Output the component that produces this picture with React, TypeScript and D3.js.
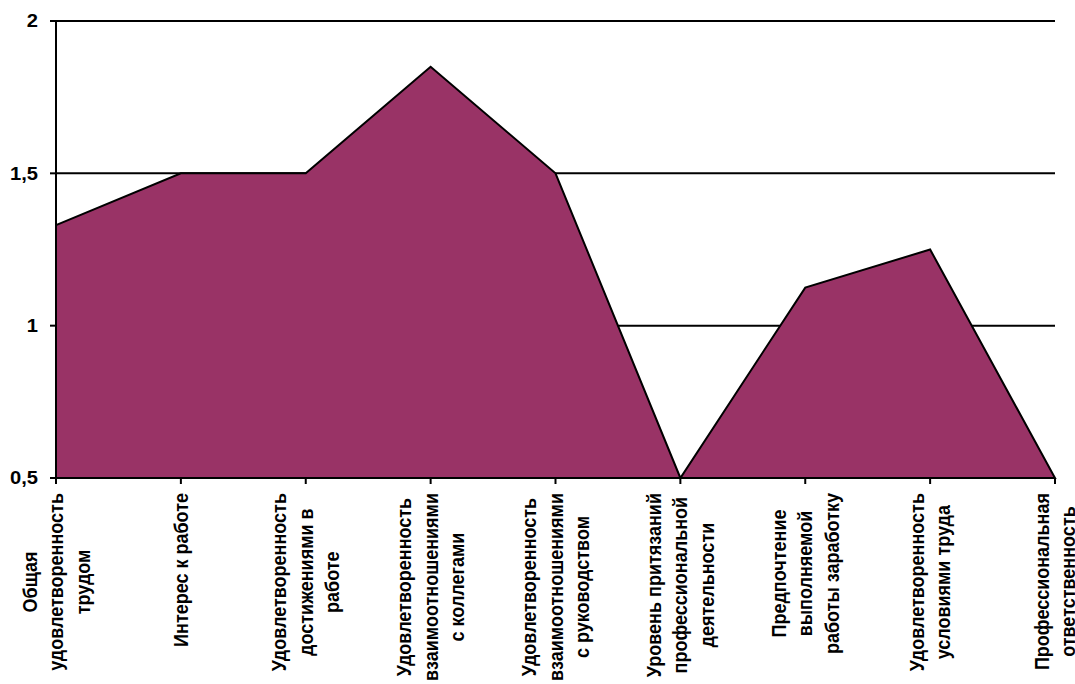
import React, { useEffect, useRef } from "react";
import * as d3 from "d3";

const categories: string[][] = [
  ["Общая", "удовлетворенность", "трудом"],
  ["Интерес к работе"],
  ["Удовлетворенность", "достижениями в", "работе"],
  ["Удовлетворенность", "взаимоотношениями", "с коллегами"],
  ["Удовлетворенность", "взаимоотношениями", "с руководством"],
  ["Уровень притязаний", "профессиональной", "деятельности"],
  ["Предпочтение", "выполняемой", "работы заработку"],
  ["Удовлетворенность", "условиями труда"],
  ["Профессиональная", "ответственность"],
];
const values: number[] = [1.33, 1.5, 1.5, 1.85, 1.5, 0.5, 1.125, 1.25, 0.5];
const yTicks: number[] = [0.5, 1, 1.5, 2];
const yTickLabels: string[] = ["0,5", "1", "1,5", "2"];

const W = 1075;
const H = 684;
const FONT = "'Liberation Sans', Arial, sans-serif";

export default function App() {
  const ref = useRef<SVGSVGElement | null>(null);

  useEffect(() => {
    const svg = d3.select(ref.current);
    svg.selectAll("*").remove();

    const left = 56, right = 1055, top = 21, bottom = 478;
    const x = d3.scalePoint<number>().domain(d3.range(values.length)).range([left, right]);
    const y = d3.scaleLinear().domain([0.5, 2]).range([bottom, top]);

    // gridlines
    svg.append("g")
      .selectAll("line")
      .data(yTicks.filter((t) => t > 0.5))
      .join("line")
      .attr("x1", left).attr("x2", right)
      .attr("y1", (d) => y(d)).attr("y2", (d) => y(d))
      .attr("stroke", "#000").attr("stroke-width", 2);

    // area
    const area = d3.area<number>()
      .x((_, i) => x(i)!)
      .y0(y(0.5))
      .y1((d) => y(d));
    svg.append("path")
      .datum(values)
      .attr("d", area)
      .attr("fill", "#993366")
      .attr("stroke", "#000")
      .attr("stroke-width", 2)
      .attr("stroke-linejoin", "miter");

    // y axis
    const yAxis = svg.append("g");
    yAxis.append("line")
      .attr("x1", left).attr("x2", left).attr("y1", top).attr("y2", bottom + 6)
      .attr("stroke", "#000").attr("stroke-width", 2);
    yTicks.forEach((t, i) => {
      yAxis.append("line")
        .attr("x1", left - 6).attr("x2", left).attr("y1", y(t)).attr("y2", y(t))
        .attr("stroke", "#000").attr("stroke-width", 2);
      yAxis.append("text")
        .attr("transform", `translate(38,${y(t)}) scale(1.12,1)`)
        .attr("dy", "0.35em")
        .attr("text-anchor", "end")
        .attr("font-family", FONT).attr("font-weight", "bold").attr("font-size", 18)
        .text(yTickLabels[i]);
    });

    // x axis
    const xAxis = svg.append("g");
    xAxis.append("line")
      .attr("x1", left).attr("x2", right).attr("y1", bottom).attr("y2", bottom)
      .attr("stroke", "#000").attr("stroke-width", 2);
    categories.forEach((lines, i) => {
      const cx = x(i)!;
      xAxis.append("line")
        .attr("x1", cx).attr("x2", cx).attr("y1", bottom).attr("y2", bottom + 6)
        .attr("stroke", "#000").attr("stroke-width", 2);
      const g = xAxis.append("g");
      const texts = lines.map((ln) =>
        g.append("text")
          .attr("font-family", FONT).attr("font-weight", "bold").attr("font-size", 18)
          .attr("text-anchor", "middle")
          .text(ln)
      );
      const maxW = d3.max(texts, (t) => (t.node() as SVGTextElement).getComputedTextLength()) || 0;
      const cy = 493 + maxW / 2;
      const spacing = 26.5;
      const n = lines.length;
      texts.forEach((t, j) => {
        const lx = cx + (j - (n - 1) / 2) * spacing;
        t.attr("transform", `translate(${lx + 7},${cy}) rotate(-90) scale(1,1.12)`);
      });
    });
  }, []);

  return (
    <svg
      ref={ref}
      width={W}
      height={H}
      style={{ position: "absolute", left: 0, top: 0, background: "#fff" }}
    />
  );
}
